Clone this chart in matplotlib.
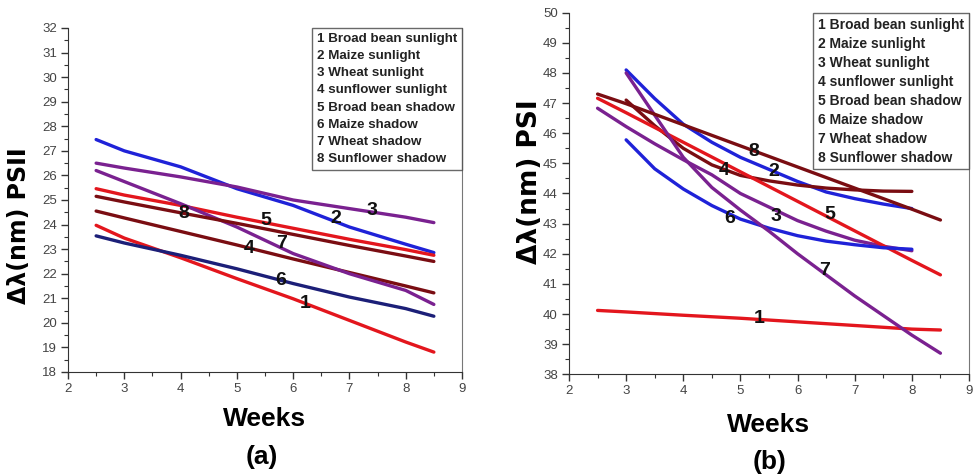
import matplotlib
matplotlib.use("Agg")
import matplotlib.pyplot as plt
from matplotlib.lines import Line2D
from matplotlib.ticker import MultipleLocator

# ---------------- data ----------------
legend_labels = ["1 Broad bean sunlight", "2 Maize sunlight", "3 Wheat sunlight",
                 "4 sunflower sunlight", "5 Broad bean shadow", "6 Maize shadow",
                 "7 Wheat shadow", "8 Sunflower shadow"]
legend_labels_b = ["1 Broad bean sunlight", "2 Maize sunlight", "3 Wheat sunlight",
                   "4 sunflower sunlight", "5 Broad bean shadow", "6 Maize shadow",
                   "7 Wheat shadow", "8 Sunflower shadow"]
curve_ids = ["1", "2", "3", "4", "5", "6", "7", "8"]

# panel (a): PSII
weeks_a = [2.5, 3, 4, 5, 6, 7, 8, 8.5]
psii_1 = [23.97, 23.45, 22.65, 21.80, 20.98, 20.10, 19.22, 18.81]
psii_2 = [27.46, 27.00, 26.35, 25.46, 24.78, 23.90, 23.20, 22.86]
psii_3 = [26.50, 26.30, 25.94, 25.53, 25.00, 24.65, 24.30, 24.08]
psii_4 = [24.55, 24.27, 23.72, 23.17, 22.60, 22.05, 21.50, 21.22]
psii_5 = [25.46, 25.20, 24.78, 24.30, 23.85, 23.40, 22.98, 22.75]
psii_6 = [23.54, 23.25, 22.75, 22.20, 21.60, 21.05, 20.58, 20.27]
psii_7 = [26.20, 25.75, 24.85, 23.90, 22.82, 22.00, 21.32, 20.75]
psii_8 = [25.15, 24.92, 24.48, 24.05, 23.60, 23.15, 22.72, 22.50]
label_pos_a_x = [6.21, 6.76, 7.40, 5.22, 5.51, 5.77, 5.80, 4.05]
label_pos_a_y = [20.78, 24.24, 24.58, 23.02, 24.17, 21.73, 23.25, 24.45]

# panel (b): PSI
weeks_b_long = [2.5, 3, 4, 5, 6, 7, 8, 8.5]
weeks_b_fine = [2.5, 3, 3.5, 4, 4.5, 5, 5.5, 6, 6.5, 7, 7.5, 8]
weeks_b_3to8 = [3, 3.5, 4, 4.5, 5, 5.5, 6, 6.5, 7, 7.5, 8]
weeks_b_3to85 = [3, 3.5, 4, 4.5, 5, 5.5, 6, 6.5, 7, 7.5, 8, 8.5]
psi_1 = [40.12, 40.07, 39.96, 39.86, 39.74, 39.62, 39.50, 39.47]
psi_2 = [48.10, 47.15, 46.30, 45.70, 45.20, 44.80, 44.40, 44.05, 43.83, 43.65, 43.50]
psi_3 = [46.83, 46.22, 45.65, 45.12, 44.62, 44.00, 43.55, 43.10, 42.75, 42.45, 42.25, 42.10]
psi_4 = [47.10, 46.25, 45.50, 44.95, 44.60, 44.42, 44.28, 44.18, 44.12, 44.08, 44.07]
psi_5 = [47.16, 46.68, 45.70, 44.72, 43.74, 42.76, 41.78, 41.30]
psi_6 = [45.78, 44.82, 44.15, 43.60, 43.15, 42.85, 42.60, 42.42, 42.30, 42.20, 42.15]
psi_7 = [48.00, 46.60, 45.20, 44.20, 43.45, 42.75, 42.00, 41.30, 40.60, 39.95, 39.30, 38.70]
psi_8 = [47.30, 46.98, 46.28, 45.58, 44.88, 44.18, 43.48, 43.12]
label_pos_b_x = [5.33, 5.59, 5.62, 4.72, 6.56, 4.81, 6.48, 5.23]
label_pos_b_y = [39.86, 44.72, 43.23, 44.76, 43.29, 43.18, 41.46, 45.39]

# ---------------- style ----------------
RED = "#e3161d"
BLUE = "#1f22d8"
PURPLE = "#7a2190"
DARKRED = "#7a0d12"
NAVY = "#1c1f78"

SANS = ["Liberation Sans", "DejaVu Sans"]

W, H = 978, 476
fig = plt.figure(figsize=(W / 100, H / 100), dpi=100)

def px_axes(x0, y0, x1, y1):
    return fig.add_axes([x0 / W, 1 - y1 / H, (x1 - x0) / W, (y1 - y0) / H])

ax_a = px_axes(68, 28, 462, 372)
ax_b = px_axes(569, 12.7, 969, 374.3)

def style_axes(ax, ymin, ymax):
    ax.set_xlim(2, 9)
    ax.set_ylim(ymin, ymax)
    ax.xaxis.set_major_locator(MultipleLocator(1))
    ax.xaxis.set_minor_locator(MultipleLocator(0.5))
    ax.yaxis.set_major_locator(MultipleLocator(1))
    ax.yaxis.set_minor_locator(MultipleLocator(0.5))
    ax.tick_params(which="both", direction="out", top=False, right=False,
                   colors="#333333", labelcolor="#444444")
    ax.tick_params(which="major", length=5, width=1, labelsize=9.5, pad=3)
    ax.tick_params(which="minor", length=3, width=0.8)
    for lab in ax.get_xticklabels() + ax.get_yticklabels():
        lab.set_family(SANS)
    ax.spines["top"].set_visible(False)
    ax.spines["right"].set_color("#777777")
    ax.spines["right"].set_linewidth(0.8)
    ax.spines["left"].set_color("#333333")
    ax.spines["bottom"].set_color("#333333")

def add_legend(ax, labels, size):
    handles = [Line2D([], [], linestyle="none") for _ in labels]
    leg = ax.legend(handles, labels, loc="upper right", borderaxespad=0,
                    handlelength=0, handletextpad=0, frameon=True, fancybox=False,
                    edgecolor="#444444", labelspacing=0.36, borderpad=0.35,
                    prop={"family": SANS, "size": size, "weight": "bold"})
    leg.get_frame().set_linewidth(1.0)
    for t in leg.get_texts():
        t.set_color("#222222")
    return leg

LW = 2.4

# panel (a)
style_axes(ax_a, 18, 32)
series_a = [psii_1, psii_2, psii_3, psii_4, psii_5, psii_6, psii_7, psii_8]
colors_a = [RED, BLUE, PURPLE, DARKRED, RED, NAVY, PURPLE, DARKRED]
for ys, c in zip(series_a, colors_a):
    ax_a.plot(weeks_a, ys, color=c, lw=LW, solid_capstyle="round")
for cid, x, y in zip(curve_ids, label_pos_a_x, label_pos_a_y):
    ax_a.text(x, y, cid, ha="center", va="center", fontsize=14, color="#111111",
              family=SANS, fontweight="bold")
add_legend(ax_a, legend_labels, 9.6)
ax_a.set_ylabel("Δλ(nm) PSII", family=["DejaVu Sans"], fontweight="bold", fontsize=17)
ax_a.yaxis.set_label_coords(-0.093, 0.424)
ax_a.set_xlabel("Weeks", family=SANS, fontweight="bold", fontsize=19)
ax_a.xaxis.set_label_coords(0.5, -0.136)
ax_a.xaxis.label.set_va("center")
fig.text(262 / W, 1 - 457 / H, "(a)", ha="center", va="center", family=SANS,
         fontweight="bold", fontsize=19)

# panel (b)
style_axes(ax_b, 38, 50)
ax_b.plot(weeks_b_long, psi_1, color=RED, lw=LW, solid_capstyle="round")
ax_b.plot(weeks_b_3to8, psi_2, color=BLUE, lw=LW, solid_capstyle="round")
ax_b.plot(weeks_b_fine, psi_3, color=PURPLE, lw=LW, solid_capstyle="round")
ax_b.plot(weeks_b_3to8, psi_4, color=DARKRED, lw=LW, solid_capstyle="round")
ax_b.plot(weeks_b_long, psi_5, color=RED, lw=LW, solid_capstyle="round")
ax_b.plot(weeks_b_3to8, psi_6, color=BLUE, lw=LW, solid_capstyle="round")
ax_b.plot(weeks_b_3to85, psi_7, color=PURPLE, lw=LW, solid_capstyle="round")
ax_b.plot(weeks_b_long, psi_8, color=DARKRED, lw=LW, solid_capstyle="round")
for cid, x, y in zip(curve_ids, label_pos_b_x, label_pos_b_y):
    ax_b.text(x, y, cid, ha="center", va="center", fontsize=14, color="#111111",
              family=SANS, fontweight="bold")
add_legend(ax_b, legend_labels_b, 10)
ax_b.set_ylabel("Δλ(nm) PSI", family=["DejaVu Sans"], fontweight="bold", fontsize=19)
ax_b.yaxis.set_label_coords(-0.065, 0.532)
ax_b.set_xlabel("Weeks", family=SANS, fontweight="bold", fontsize=19)
ax_b.xaxis.set_label_coords(0.5, -0.14)
ax_b.xaxis.label.set_va("center")
fig.text(770 / W, 1 - 462 / H, "(b)", ha="center", va="center", family=SANS,
         fontweight="bold", fontsize=19)

fig.savefig("out.png", dpi=100, facecolor="white")
